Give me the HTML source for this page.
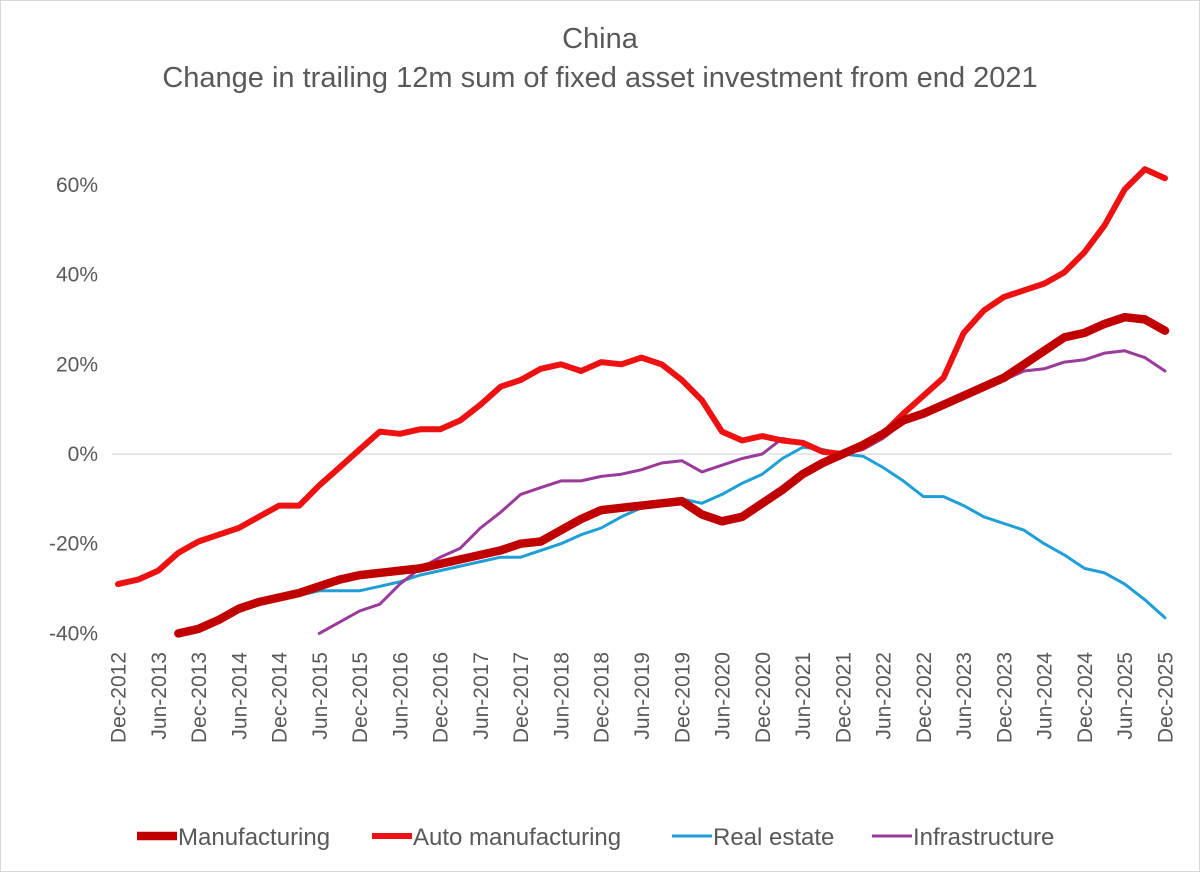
<!DOCTYPE html>
<html><head><meta charset="utf-8"><style>
body{margin:0;background:#fff;width:1200px;height:872px;overflow:hidden;font-family:"Liberation Sans",sans-serif}
</style></head><body>
<svg id="chart" width="1200" height="872" xmlns="http://www.w3.org/2000/svg">
<rect x="0.5" y="0.5" width="1199" height="871" fill="#fff" stroke="#d9d9d9"/>
<text x="600" y="48" text-anchor="middle" font-size="29" fill="#595959">China</text>
<text x="600" y="87" text-anchor="middle" font-size="29" fill="#595959">Change in trailing 12m sum of fixed asset investment from end 2021</text>
<g id="axes"></g><g id="series"></g><g id="legend"></g>
</svg>
<script>
const quarters = ["Dec-2012","Mar-2013","Jun-2013","Sep-2013","Dec-2013","Mar-2014","Jun-2014","Sep-2014","Dec-2014","Mar-2015","Jun-2015","Sep-2015","Dec-2015","Mar-2016","Jun-2016","Sep-2016","Dec-2016","Mar-2017","Jun-2017","Sep-2017","Dec-2017","Mar-2018","Jun-2018","Sep-2018","Dec-2018","Mar-2019","Jun-2019","Sep-2019","Dec-2019","Mar-2020","Jun-2020","Sep-2020","Dec-2020","Mar-2021","Jun-2021","Sep-2021","Dec-2021","Mar-2022","Jun-2022","Sep-2022","Dec-2022","Mar-2023","Jun-2023","Sep-2023","Dec-2023","Mar-2024","Jun-2024","Sep-2024","Dec-2024","Mar-2025","Jun-2025","Sep-2025","Dec-2025"];
const autoMfg = [-29,-28,-26,-22,-19.5,-18,-16.5,-14,-11.5,-11.5,-7,-3,1,5,4.5,5.5,5.5,7.5,11,15,16.5,19,20,18.5,20.5,20,21.5,20,16.5,12,5,3,4,3,2.5,0.5,0,1.5,4.5,9,13,17,27,32,35,36.5,38,40.5,45,51,59,63.5,61.5];
const manufacturing = [null,null,null,-40,-39,-37,-34.5,-33,-32,-31,-29.5,-28,-27,-26.5,-26,-25.5,-24.5,-23.5,-22.5,-21.5,-20,-19.5,-17,-14.5,-12.5,-12,-11.5,-11,-10.5,-13.5,-15,-14,-11,-8,-4.5,-2,0,2,4.5,7.5,9,11,13,15,17,20,23,26,27,29,30.5,30,27.5];
const realEstate = [null,null,null,-40,-38.5,-36.5,-34.5,-33,-32.5,-31.5,-30.5,-30.5,-30.5,-29.5,-28.5,-27,-26,-25,-24,-23,-23,-21.5,-20,-18,-16.5,-14,-12,-10.5,-10,-11,-9,-6.5,-4.5,-1,1.5,1,0,-0.5,-3,-6,-9.5,-9.5,-11.5,-14,-15.5,-17,-20,-22.5,-25.5,-26.5,-29,-32.5,-36.5];
const infrastructure = [null,null,null,null,null,null,null,null,null,null,-40,-37.5,-35,-33.5,-29,-25.5,-23,-21,-16.5,-13,-9,-7.5,-6,-6,-5,-4.5,-3.5,-2,-1.5,-4,-2.5,-1,0,3.5,2.5,0.5,0,1,3.5,7,9,11,13,15,16.5,18.5,19,20.5,21,22.5,23,21.5,18.5];
const xLabels = ["Dec-2012","Jun-2013","Dec-2013","Jun-2014","Dec-2014","Jun-2015","Dec-2015","Jun-2016","Dec-2016","Jun-2017","Dec-2017","Jun-2018","Dec-2018","Jun-2019","Dec-2019","Jun-2020","Dec-2020","Jun-2021","Dec-2021","Jun-2022","Dec-2022","Jun-2023","Dec-2023","Jun-2024","Dec-2024","Jun-2025","Dec-2025"];
const yTicks = [60,40,20,0,-20,-40];

const NS="http://www.w3.org/2000/svg";
const x0=118,x1=1165,y0=454,pxPer=89.7/20;
const xq=i=>x0+(x1-x0)*i/(quarters.length-1);
const xh=i=>x0+(x1-x0)*i/(xLabels.length-1);
const y=v=>y0-v*pxPer;
function mk(t,a,p){const e=document.createElementNS(NS,t);for(const k in a)e.setAttribute(k,a[k]);p.appendChild(e);return e;}
const axes=document.getElementById('axes');
const zl=mk('line',{x1:112,x2:1172,y1:y(0),y2:y(0),stroke:'#d9d9d9','stroke-width':1.3},axes);


yTicks.forEach(v=>{const t=mk('text',{x:98,y:y(v)+7,'text-anchor':'end','font-size':21,fill:'#595959'},axes);t.textContent=v+'%';

});
xLabels.forEach((l,i)=>{const xx=xh(i)+7.5;const t=mk('text',{x:0,y:0,transform:`translate(${xx},652) rotate(-90)`,'text-anchor':'end','font-size':21,fill:'#595959'},axes);t.textContent=l;

});
const series=[
 {name:'Real estate',data:realEstate,color:'#1f9fd7',w:3,id:'real-estate-line'},
 {name:'Infrastructure',data:infrastructure,color:'#9a3a9a',w:3,id:'infrastructure-line'},
 {name:'Auto manufacturing',data:autoMfg,color:'#ee1111',w:6,id:'auto-manufacturing-line'},
 {name:'Manufacturing',data:manufacturing,color:'#c00000',w:8.5,id:'manufacturing-line'}];
const sg=document.getElementById('series');
series.forEach(s=>{let d='';let pen=false;s.data.forEach((v,i)=>{if(v===null){pen=false;return;}d+=(pen?'L':'M')+xq(i).toFixed(1)+','+y(v).toFixed(1);pen=true;});
const p=mk('path',{d,fill:'none',stroke:s.color,'stroke-width':s.w,'stroke-linejoin':'round','stroke-linecap':'round'},sg);

});
const lg=document.getElementById('legend');
const items=[{n:'Manufacturing',c:'#c00000',w:8.5,x:137},{n:'Auto manufacturing',c:'#ee1111',w:6,x:372},{n:'Real estate',c:'#1f9fd7',w:3,x:672},{n:'Infrastructure',c:'#9a3a9a',w:3,x:872}];
items.forEach(it=>{const g=mk('g',{},lg);


mk('line',{x1:it.x,x2:it.x+40,y1:836,y2:836,stroke:it.c,'stroke-width':it.w},g);
const t=mk('text',{x:it.x+41,y:845,'font-size':24,fill:'#595959'},g);t.textContent=it.n;});
</script>
</body></html>
